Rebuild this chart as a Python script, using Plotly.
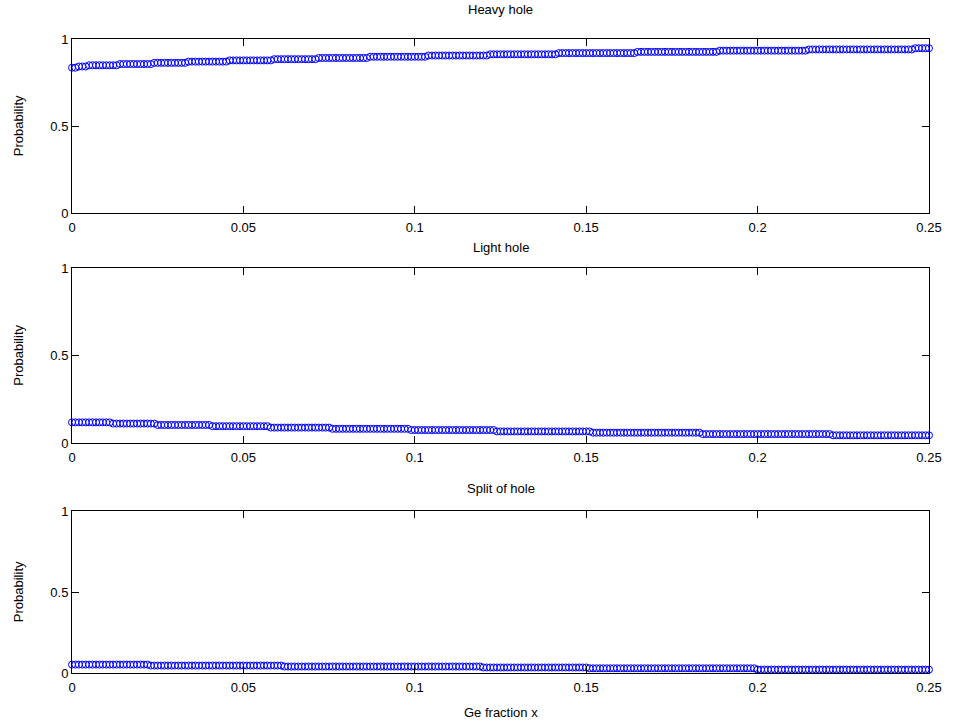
import numpy as np
import plotly.graph_objects as go

# Ge fraction x (0 to 0.25 in steps of 0.001)
ge_fraction = np.linspace(0.0, 0.25, 251)

heavy_hole = [
    0.835, 0.835, 0.842, 0.842, 0.842, 0.849, 0.849, 0.849, 0.849, 0.849,
    0.849, 0.849, 0.849, 0.849, 0.856, 0.856, 0.856, 0.856, 0.856, 0.856,
    0.856, 0.856, 0.856, 0.856, 0.863, 0.863, 0.863, 0.863, 0.863, 0.863,
    0.863, 0.863, 0.863, 0.863, 0.870, 0.870, 0.870, 0.870, 0.870, 0.870,
    0.870, 0.870, 0.870, 0.870, 0.870, 0.870, 0.877, 0.877, 0.877, 0.877,
    0.877, 0.877, 0.877, 0.877, 0.877, 0.877, 0.877, 0.877, 0.877, 0.884,
    0.884, 0.884, 0.884, 0.884, 0.884, 0.884, 0.884, 0.884, 0.884, 0.884,
    0.884, 0.884, 0.891, 0.891, 0.891, 0.891, 0.891, 0.891, 0.891, 0.891,
    0.891, 0.891, 0.891, 0.891, 0.891, 0.891, 0.891, 0.898, 0.898, 0.898,
    0.898, 0.898, 0.898, 0.898, 0.898, 0.898, 0.898, 0.898, 0.898, 0.898,
    0.898, 0.898, 0.898, 0.898, 0.905, 0.905, 0.905, 0.905, 0.905, 0.905,
    0.905, 0.905, 0.905, 0.905, 0.905, 0.905, 0.905, 0.905, 0.905, 0.905,
    0.905, 0.905, 0.912, 0.912, 0.912, 0.912, 0.912, 0.912, 0.912, 0.912,
    0.912, 0.912, 0.912, 0.912, 0.912, 0.912, 0.912, 0.912, 0.912, 0.912,
    0.912, 0.912, 0.919, 0.919, 0.919, 0.919, 0.919, 0.919, 0.919, 0.919,
    0.919, 0.919, 0.919, 0.919, 0.919, 0.919, 0.919, 0.919, 0.919, 0.919,
    0.919, 0.919, 0.919, 0.919, 0.919, 0.926, 0.926, 0.926, 0.926, 0.926,
    0.926, 0.926, 0.926, 0.926, 0.926, 0.926, 0.926, 0.926, 0.926, 0.926,
    0.926, 0.926, 0.926, 0.926, 0.926, 0.926, 0.926, 0.926, 0.926, 0.933,
    0.933, 0.933, 0.933, 0.933, 0.933, 0.933, 0.933, 0.933, 0.933, 0.933,
    0.933, 0.933, 0.933, 0.933, 0.933, 0.933, 0.933, 0.933, 0.933, 0.933,
    0.933, 0.933, 0.933, 0.933, 0.933, 0.940, 0.940, 0.940, 0.940, 0.940,
    0.940, 0.940, 0.940, 0.940, 0.940, 0.940, 0.940, 0.940, 0.940, 0.940,
    0.940, 0.940, 0.940, 0.940, 0.940, 0.940, 0.940, 0.940, 0.940, 0.940,
    0.940, 0.940, 0.940, 0.940, 0.940, 0.940, 0.947, 0.947, 0.947, 0.947,
    0.947,
]

light_hole = [
    0.118, 0.118, 0.118, 0.118, 0.118, 0.118, 0.118, 0.118, 0.118, 0.118,
    0.118, 0.118, 0.111, 0.111, 0.111, 0.111, 0.111, 0.111, 0.111, 0.111,
    0.111, 0.111, 0.111, 0.111, 0.111, 0.103, 0.103, 0.103, 0.103, 0.103,
    0.103, 0.103, 0.103, 0.103, 0.103, 0.103, 0.103, 0.103, 0.103, 0.103,
    0.103, 0.096, 0.096, 0.096, 0.096, 0.096, 0.096, 0.096, 0.096, 0.096,
    0.096, 0.096, 0.096, 0.096, 0.096, 0.096, 0.096, 0.096, 0.088, 0.088,
    0.088, 0.088, 0.088, 0.088, 0.088, 0.088, 0.088, 0.088, 0.088, 0.088,
    0.088, 0.088, 0.088, 0.088, 0.088, 0.088, 0.081, 0.081, 0.081, 0.081,
    0.081, 0.081, 0.081, 0.081, 0.081, 0.081, 0.081, 0.081, 0.081, 0.081,
    0.081, 0.081, 0.081, 0.081, 0.081, 0.081, 0.081, 0.081, 0.081, 0.074,
    0.074, 0.074, 0.074, 0.074, 0.074, 0.074, 0.074, 0.074, 0.074, 0.074,
    0.074, 0.074, 0.074, 0.074, 0.074, 0.074, 0.074, 0.074, 0.074, 0.074,
    0.074, 0.074, 0.074, 0.074, 0.066, 0.066, 0.066, 0.066, 0.066, 0.066,
    0.066, 0.066, 0.066, 0.066, 0.066, 0.066, 0.066, 0.066, 0.066, 0.066,
    0.066, 0.066, 0.066, 0.066, 0.066, 0.066, 0.066, 0.066, 0.066, 0.066,
    0.066, 0.066, 0.059, 0.059, 0.059, 0.059, 0.059, 0.059, 0.059, 0.059,
    0.059, 0.059, 0.059, 0.059, 0.059, 0.059, 0.059, 0.059, 0.059, 0.059,
    0.059, 0.059, 0.059, 0.059, 0.059, 0.059, 0.059, 0.059, 0.059, 0.059,
    0.059, 0.059, 0.059, 0.059, 0.051, 0.051, 0.051, 0.051, 0.051, 0.051,
    0.051, 0.051, 0.051, 0.051, 0.051, 0.051, 0.051, 0.051, 0.051, 0.051,
    0.051, 0.051, 0.051, 0.051, 0.051, 0.051, 0.051, 0.051, 0.051, 0.051,
    0.051, 0.051, 0.051, 0.051, 0.051, 0.051, 0.051, 0.051, 0.051, 0.051,
    0.051, 0.051, 0.044, 0.044, 0.044, 0.044, 0.044, 0.044, 0.044, 0.044,
    0.044, 0.044, 0.044, 0.044, 0.044, 0.044, 0.044, 0.044, 0.044, 0.044,
    0.044, 0.044, 0.044, 0.044, 0.044, 0.044, 0.044, 0.044, 0.044, 0.044,
    0.044,
]

split_off_hole = [
    0.052, 0.052, 0.052, 0.052, 0.052, 0.052, 0.052, 0.052, 0.052, 0.052,
    0.052, 0.052, 0.052, 0.052, 0.052, 0.052, 0.052, 0.052, 0.052, 0.052,
    0.052, 0.052, 0.052, 0.046, 0.046, 0.046, 0.046, 0.046, 0.046, 0.046,
    0.046, 0.046, 0.046, 0.046, 0.046, 0.046, 0.046, 0.046, 0.046, 0.046,
    0.046, 0.046, 0.046, 0.046, 0.046, 0.046, 0.046, 0.046, 0.046, 0.046,
    0.046, 0.046, 0.046, 0.046, 0.046, 0.046, 0.046, 0.046, 0.046, 0.046,
    0.046, 0.046, 0.040, 0.040, 0.040, 0.040, 0.040, 0.040, 0.040, 0.040,
    0.040, 0.040, 0.040, 0.040, 0.040, 0.040, 0.040, 0.040, 0.040, 0.040,
    0.040, 0.040, 0.040, 0.040, 0.040, 0.040, 0.040, 0.040, 0.040, 0.040,
    0.040, 0.040, 0.040, 0.040, 0.040, 0.040, 0.040, 0.040, 0.040, 0.040,
    0.040, 0.040, 0.040, 0.040, 0.040, 0.040, 0.040, 0.040, 0.040, 0.040,
    0.040, 0.040, 0.040, 0.040, 0.040, 0.040, 0.040, 0.040, 0.040, 0.040,
    0.034, 0.034, 0.034, 0.034, 0.034, 0.034, 0.034, 0.034, 0.034, 0.034,
    0.034, 0.034, 0.034, 0.034, 0.034, 0.034, 0.034, 0.034, 0.034, 0.034,
    0.034, 0.034, 0.034, 0.034, 0.034, 0.034, 0.034, 0.034, 0.034, 0.034,
    0.034, 0.029, 0.029, 0.029, 0.029, 0.029, 0.029, 0.029, 0.029, 0.029,
    0.029, 0.029, 0.029, 0.029, 0.029, 0.029, 0.029, 0.029, 0.029, 0.029,
    0.029, 0.029, 0.029, 0.029, 0.029, 0.029, 0.029, 0.029, 0.029, 0.029,
    0.029, 0.029, 0.029, 0.029, 0.029, 0.029, 0.029, 0.029, 0.029, 0.029,
    0.029, 0.029, 0.029, 0.029, 0.029, 0.029, 0.029, 0.029, 0.029, 0.029,
    0.021, 0.021, 0.021, 0.021, 0.021, 0.021, 0.021, 0.021, 0.021, 0.021,
    0.021, 0.021, 0.021, 0.021, 0.021, 0.021, 0.021, 0.021, 0.021, 0.021,
    0.021, 0.021, 0.021, 0.021, 0.021, 0.021, 0.021, 0.021, 0.021, 0.021,
    0.021, 0.021, 0.021, 0.021, 0.021, 0.021, 0.021, 0.021, 0.021, 0.021,
    0.021, 0.021, 0.021, 0.021, 0.021, 0.021, 0.021, 0.021, 0.021, 0.021,
    0.021,
]

panel_titles = ["Heavy hole", "Light hole", "Split of hole"]
x_tick_vals = [0, 0.05, 0.1, 0.15, 0.2, 0.25]
x_tick_text = ["0", "0.05", "0.1", "0.15", "0.2", "0.25"]
y_tick_vals = [0, 0.5, 1]
y_tick_text = ["0", "0.5", "1"]
x_label = "Ge fraction x"
y_label = "Probability"

series = [heavy_hole, light_hole, split_off_hole]

W, H = 954, 725
ML, MR, MT, MB = 72, 22, 39, 52
PH = H - MT - MB  # plot area height in px


def fy(ypix):
    return (H - MB - ypix) / PH


def fx(xpix):
    return (xpix - ML) / (W - ML - MR)


# panel pixel extents (top, bottom)
panels = [(39, 213), (268, 443), (511, 673)]
title_y = [9, 248, 488]

FONT = "Liberation Sans, Arial, Helvetica, sans-serif"

fig = go.Figure()
layout = dict(
    width=W, height=H,
    margin=dict(l=ML, r=MR, t=MT, b=MB),
    paper_bgcolor="white", plot_bgcolor="white",
    showlegend=False,
    font=dict(family=FONT, size=13, color="black"),
    annotations=[],
)

for k, (vals, (ptop, pbot)) in enumerate(zip(series, panels)):
    n = k + 1
    xa = "x" if n == 1 else f"x{n}"
    ya = "y" if n == 1 else f"y{n}"
    fig.add_trace(go.Scatter(
        x=ge_fraction, y=vals, mode="markers",
        xaxis=xa, yaxis=ya, cliponaxis=False,
        marker=dict(symbol="circle-open", size=7, color="#0000FF",
                    line=dict(width=1, color="#0000FF")),
        hoverinfo="x+y",
    ))
    axis_common = dict(
        showgrid=False, zeroline=False, showline=True, linecolor="black",
        linewidth=1, ticks="inside", ticklen=7, tickwidth=1, tickcolor="black",
        mirror="ticks", tickfont=dict(family=FONT, size=13, color="black"),
    )
    layout["xaxis" if n == 1 else f"xaxis{n}"] = dict(
        axis_common, domain=[0, 1], range=[0, 0.25],
        tickvals=x_tick_vals, ticktext=x_tick_text,
        anchor=ya, ticklabelstandoff=2,
    )
    layout["yaxis" if n == 1 else f"yaxis{n}"] = dict(
        axis_common, domain=[fy(pbot), fy(ptop)], range=[0, 1],
        tickvals=y_tick_vals, ticktext=y_tick_text,
        anchor=xa,
    )
    layout["annotations"].append(dict(
        text=panel_titles[k], xref="paper", yref="paper",
        x=fx(502), y=fy(title_y[k]), xanchor="center", yanchor="middle",
        showarrow=False, font=dict(family=FONT, size=13, color="black"),
    ))
    layout["annotations"].append(dict(
        text=y_label, xref="paper", yref="paper", textangle=-90,
        x=fx(18), y=fy((ptop + pbot) / 2), xanchor="center", yanchor="middle",
        showarrow=False, font=dict(family=FONT, size=13, color="black"),
    ))

layout["annotations"].append(dict(
    text=x_label, xref="paper", yref="paper",
    x=fx(502), y=fy(712), xanchor="center", yanchor="middle",
    showarrow=False, font=dict(family=FONT, size=13, color="black"),
))

fig.update_layout(**layout)
fig.write_html(
    "out.html",
    config={"displayModeBar": False},
    post_script="document.body.style.margin='0';document.body.style.overflow='hidden';",
)
